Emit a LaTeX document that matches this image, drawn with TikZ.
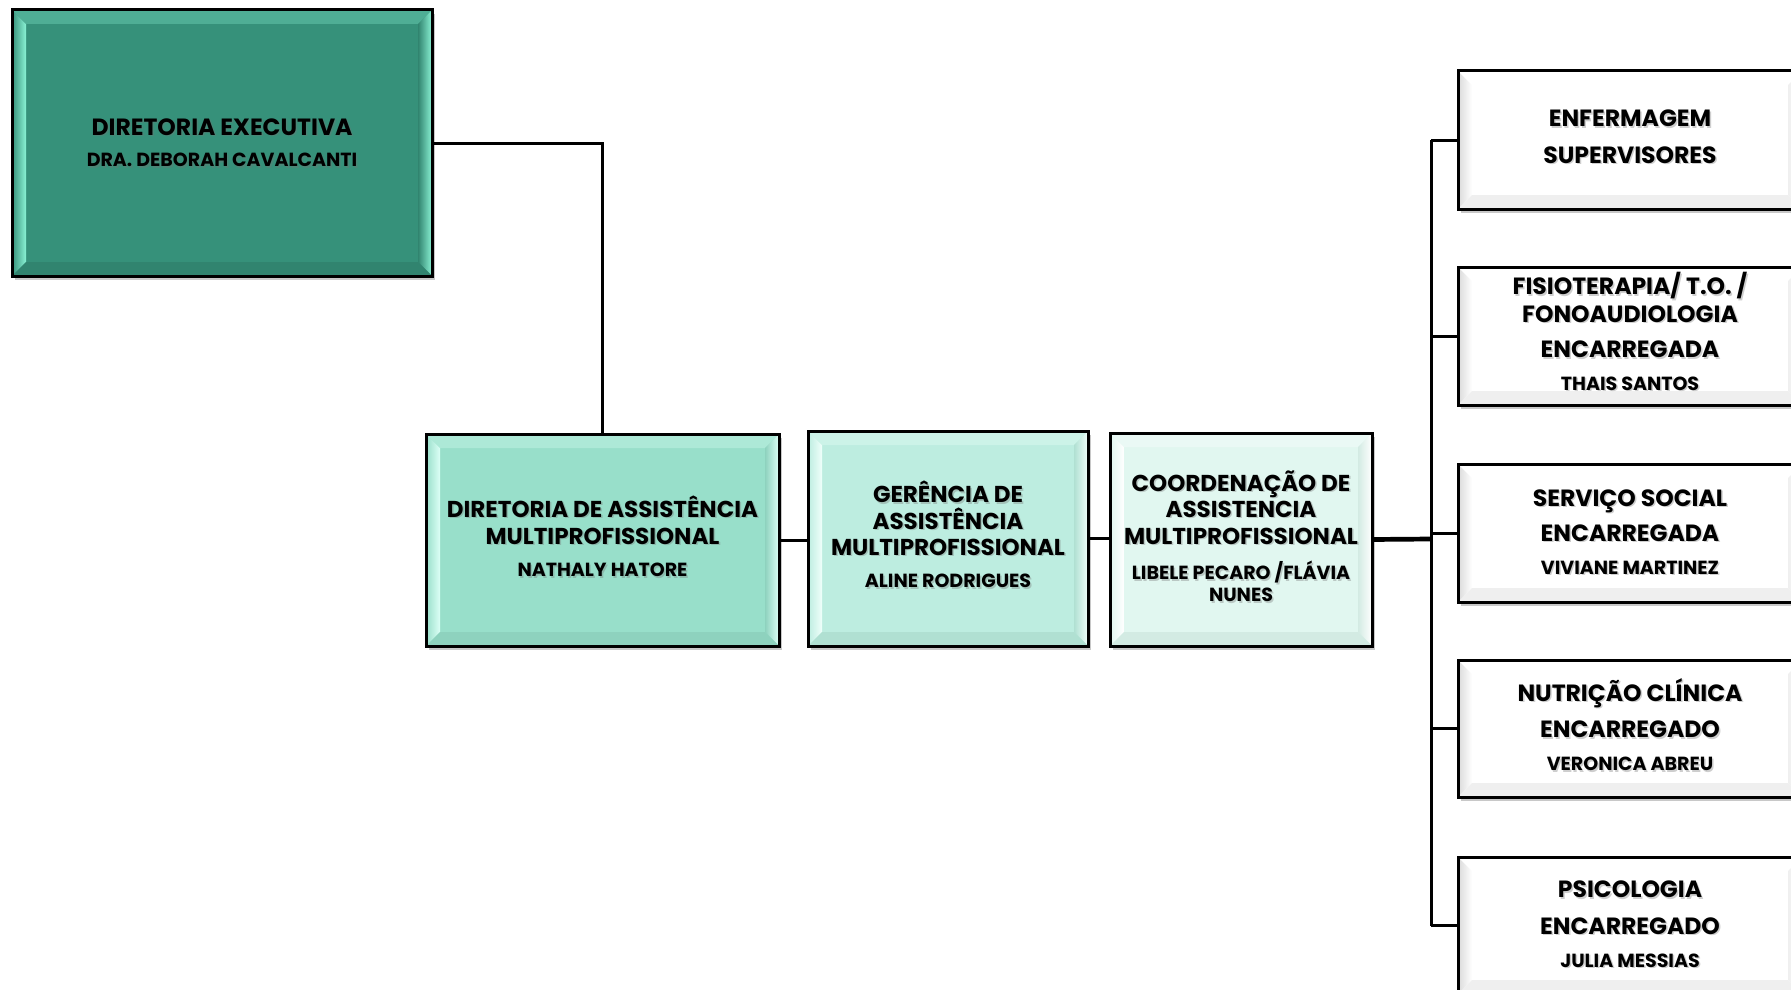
\documentclass[tikz,border=0pt]{standalone}
\usepackage{fontspec}
\setmainfont{Poppins}
\usetikzlibrary{shadows,calc}
\definecolor{fA}{HTML}{36917A}
\definecolor{lA}{HTML}{8AF2D4}
\definecolor{dA}{HTML}{31846F}
\definecolor{fB}{HTML}{98DFCA}
\definecolor{lB}{HTML}{DDFFF6}
\definecolor{dB}{HTML}{8ED2BE}
\definecolor{fC}{HTML}{BDEDE0}
\definecolor{lC}{HTML}{F0FFFB}
\definecolor{dC}{HTML}{B0E0D2}
\definecolor{fD}{HTML}{E1F7F0}
\definecolor{lD}{HTML}{FFFFFF}
\definecolor{dD}{HTML}{D3EBE3}
\definecolor{fW}{HTML}{FFFFFF}
\definecolor{lW}{HTML}{FFFFFF}
\definecolor{dW}{HTML}{EFEFEF}
\definecolor{oW}{HTML}{DADADA}
\tikzset{
  boxshape/.style={rectangle, inner sep=0pt, outer sep=0pt,
    drop shadow={shadow xshift=3pt, shadow yshift=-4pt, opacity=0.3, fill=black!70}},
  border/.style={line width=3pt, black},
  conn/.style={line width=3pt, black},
  connthick/.style={line width=4.7pt, black},
  txt/.style={anchor=base, inner sep=0pt, font=\bfseries},
  txtsh/.style={anchor=base, inner sep=0pt, font=\bfseries, text=black!55, opacity=0.35}
}
% name, x1, y1, x2, y2, fill, light, dark, left-outer
\newcommand\orgbox[9]{%
  \node[boxshape, fill=#6, minimum width={#4-#2}, minimum height={#5-#3}] (#1) at ({(#2+#4)/2},{(#3+#5)/2}) {};
  \shade[left color=#9, right color=#7] (#2,#3) -- ({#2+14},{#3+14}) -- ({#2+14},{#5-14}) -- (#2,#5) -- cycle;
  \fill[#6!70!#7] (#2,#3) -- (#4,#3) -- ({#4-14},{#3+14}) -- ({#2+14},{#3+14}) -- cycle;
  \shade[left color=#8, right color=#7] (#4,#3) -- (#4,#5) -- ({#4-14},{#5-14}) -- ({#4-14},{#3+14}) -- cycle;
  \fill[#8] (#2,#5) -- (#4,#5) -- ({#4-14},{#5-14}) -- ({#2+14},{#5-14}) -- cycle;
  \draw[border] (#1.north west) rectangle (#1.south east);
}
% name, x, baseline y, size, text
\newcommand\txtline[5]{%
  \node[txtsh] (#1s) at ({#2+1.5},{#3+1.5}) {\fontsize{#4}{#4}\selectfont #5};
  \node[txt] (#1) at (#2,#3) {\fontsize{#4}{#4}\selectfont #5};
}
\begin{document}
\begin{tikzpicture}[x=1pt,y=-1pt]
\useasboundingbox (0,0) rectangle (1791,990);
\clip (0,0) rectangle (1791,990);
\fill[white] (0,0) rectangle (1791,990);

% boxes
\orgbox{exec}{12}{10}{432}{276}{fA}{lA}{dA}{fA}
\orgbox{dir}{426}{434}{779}{646}{fB}{lB}{dB}{fB}
\orgbox{ger}{808}{431}{1088}{646}{fC}{lC}{dC}{fC}
\orgbox{coord}{1110}{433}{1372}{646}{fD}{lD}{dD}{fD}
\orgbox{enf}{1458}{71}{1802}{209}{fW}{lW}{dW}{oW}
\orgbox{fisio}{1458}{267}{1802}{405}{fW}{lW}{dW}{oW}
\orgbox{serv}{1458}{464}{1802}{602}{fW}{lW}{dW}{oW}
\orgbox{nutr}{1458}{660}{1802}{797}{fW}{lW}{dW}{oW}
\orgbox{psic}{1458}{857}{1802}{994}{fW}{lW}{dW}{oW}

% connectors
\coordinate (bus) at (1431,539);
\draw[conn] (exec.east) -| (dir.north);
\draw[conn] (dir.east) -- (dir.east -| ger.west);
\draw[conn] (ger.east) -- (ger.east -| coord.west);
\draw[connthick] (coord.east) -- (bus);
\draw[conn] (enf.west -| bus) -- (psic.west -| bus);
\foreach \b in {enf,fisio,serv,nutr,psic}
  \draw[conn] (\b.west) -- (\b.west -| bus);

% texts
\txtline{t1a}{222}{135}{23.5}{DIRETORIA EXECUTIVA}
\txtline{t1b}{222}{166.5}{19}{DRA. DEBORAH CAVALCANTI}

\txtline{t2a}{602.5}{517}{23}{DIRETORIA DE ASSISTÊNCIA}
\txtline{t2b}{602.5}{544}{23}{MULTIPROFISSIONAL}
\txtline{t2c}{602.5}{576.5}{19}{NATHALY HATORE}

\txtline{t3a}{948}{502.6}{23}{GERÊNCIA DE}
\txtline{t3b}{948}{529}{23}{ASSISTÊNCIA}
\txtline{t3c}{948}{555}{23}{MULTIPROFISSIONAL}
\txtline{t3d}{948}{587.5}{19}{ALINE RODRIGUES}

\txtline{t4a}{1241}{491}{23}{COORDENAÇÃO DE}
\txtline{t4b}{1241}{517}{23}{ASSISTENCIA}
\txtline{t4c}{1241}{544}{23}{MULTIPROFISSIONAL}
\txtline{t4d}{1241}{579.5}{19}{LIBELE PECARO /FLÁVIA}
\txtline{t4e}{1241}{601.5}{19}{NUNES}

\txtline{r1a}{1630}{126.8}{23.5}{ENFERMAGEM}
\txtline{r1b}{1630}{163.3}{23.5}{SUPERVISORES}

\txtline{r2a}{1630}{294.7}{23.5}{FISIOTERAPIA/ T.O. /}
\txtline{r2b}{1630}{322}{23.5}{FONOAUDIOLOGIA}
\txtline{r2c}{1630}{357.5}{23.5}{ENCARREGADA}
\txtline{r2d}{1630}{390.3}{19}{THAIS SANTOS}

\txtline{r3a}{1630}{506}{23.5}{SERVIÇO SOCIAL}
\txtline{r3b}{1630}{541.4}{23.5}{ENCARREGADA}
\txtline{r3c}{1630}{574.2}{19}{VIVIANE MARTINEZ}

\txtline{r4a}{1630}{701}{23.5}{NUTRIÇÃO CLÍNICA}
\txtline{r4b}{1630}{737.9}{23.5}{ENCARREGADO}
\txtline{r4c}{1630}{770.5}{19}{VERONICA ABREU}

\txtline{r5a}{1630}{897.8}{23.5}{PSICOLOGIA}
\txtline{r5b}{1630}{934.3}{23.5}{ENCARREGADO}
\txtline{r5c}{1630}{967.1}{19}{JULIA MESSIAS}
\end{tikzpicture}
\end{document}
